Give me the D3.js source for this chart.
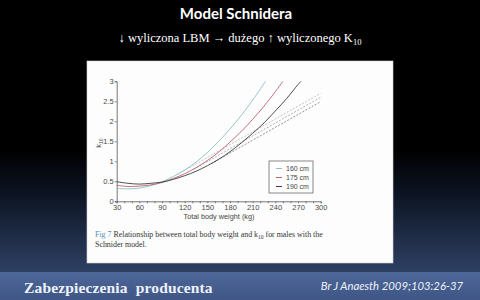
<!DOCTYPE html>
<html lang="pl">

<head>
    <meta charset="UTF-8">
    <title>Model Schnidera</title>
    <script src="https://cdn.jsdelivr.net/npm/d3@7"></script>
    <style>
        html, body { margin: 0; padding: 0; background: #000; }
        svg { display: block; }
    </style>
</head>

<body>
    <div id="container"></div>
    <script>
        // k10, males, Schnider model
        const weights160 = [30, 45, 60, 75, 90, 105, 120, 135, 150, 165, 180, 195, 210, 227];
        const k10_160 = [0.32, 0.31, 0.33, 0.39, 0.49, 0.62, 0.78, 0.98, 1.22, 1.50, 1.81, 2.15, 2.53, 3.0];

        const weights175 = [30, 45, 60, 75, 90, 105, 120, 135, 150, 165, 180, 195, 210, 225, 240, 250];
        const k10_175 = [0.40, 0.37, 0.38, 0.41, 0.47, 0.57, 0.69, 0.84, 1.02, 1.23, 1.48, 1.75, 2.05, 2.38, 2.74, 3.0];

        const weights190 = [30, 45, 60, 75, 90, 105, 120, 135, 150, 165, 180, 195, 210, 225, 240, 255, 270, 274];
        const k10_190 = [0.49, 0.45, 0.43, 0.45, 0.48, 0.55, 0.64, 0.75, 0.89, 1.05, 1.24, 1.46, 1.70, 1.96, 2.26, 2.57, 2.92, 3.0];

        // dotted straight lines (one per height)
        const dashWeights160 = [110, 300];
        const dashK10_160 = [0.67, 2.70];
        const dashWeights175 = [132, 300];
        const dashK10_175 = [0.80, 2.60];
        const dashWeights190 = [155, 300];
        const dashK10_190 = [0.94, 2.49];

        const heights = ["160 cm", "175 cm", "190 cm"];
        const xTicks = [30, 60, 90, 120, 150, 180, 210, 240, 270, 300];
        const yTicks = [0, 0.5, 1, 1.5, 2, 2.5, 3];

        const W = 480, H = 300;
        const colors = ["#8cc0c2", "#b8646f", "#3a3a3a"];
        const dashColors = ["#c4c4c4", "#b0b0b0", "#969696"];

        const svg = d3.create("svg")
            .attr("width", W)
            .attr("height", H)
            .attr("viewBox", `0 0 ${W} ${H}`);

        // slide background
        const defs = svg.append("defs");
        const bg = defs.append("linearGradient").attr("id", "bg")
            .attr("x1", 0).attr("y1", 0).attr("x2", 0).attr("y2", 1);
        bg.append("stop").attr("offset", "0").attr("stop-color", "#000");
        bg.append("stop").attr("offset", "0.55").attr("stop-color", "#000");
        bg.append("stop").attr("offset", "0.7").attr("stop-color", "#0b1220");
        bg.append("stop").attr("offset", "1").attr("stop-color", "#2e4063");

        const band = defs.append("linearGradient").attr("id", "band")
            .attr("x1", 0).attr("y1", 0).attr("x2", 0).attr("y2", 1);
        band.append("stop").attr("offset", "0").attr("stop-color", "#4d6798");
        band.append("stop").attr("offset", "1").attr("stop-color", "#3f5686");

        svg.append("rect").attr("width", W).attr("height", 272).attr("fill", "url(#bg)");
        svg.append("rect").attr("y", 272).attr("width", W).attr("height", 28).attr("fill", "url(#band)");

        // title + subtitle
        svg.append("text")
            .attr("x", 236).attr("y", 19)
            .attr("text-anchor", "middle")
            .attr("fill", "#fff")
            .style("font", "700 15px Lato, 'Open Sans', sans-serif")
            .text("Model Schnidera");

        const sub = svg.append("text")
            .attr("x", 240).attr("y", 42)
            .attr("text-anchor", "middle")
            .attr("fill", "#fff")
            .style("font", "12.5px 'Liberation Serif', serif");
        sub.append("tspan").text("↓ wyliczona LBM → dużego ↑ wyliczonego K");
        sub.append("tspan").attr("dy", 3).style("font-size", "8.5px").text("10");

        // figure panel
        svg.append("rect")
            .attr("x", 87).attr("y", 61).attr("width", 306).attr("height", 202)
            .attr("fill", "#fdfdfd").attr("stroke", "#d8d8d8").attr("stroke-width", 0.6);

        const x = d3.scaleLinear().domain([30, 300]).range([116.7, 320.7]);
        const y = d3.scaleLinear().domain([0, 3]).range([201.3, 81.3]);

        const chart = svg.append("g")
            .style("font", "7.5px 'Liberation Sans', Arial, sans-serif")
            .attr("fill", "#444");

        const xAxis = chart.append("g")
            .attr("transform", `translate(0,${y(0)})`)
            .call(d3.axisBottom(x).tickValues(d3.range(30, 301, 10)).tickSize(2).tickPadding(1)
                .tickFormat(d => xTicks.includes(d) ? d : ""));
        const yAxis = chart.append("g")
            .attr("transform", `translate(${x(30)},0)`)
            .call(d3.axisLeft(y).tickValues(yTicks).tickSize(2).tickFormat(d3.format("")));

        [xAxis, yAxis].forEach(a => {
            a.select(".domain").attr("stroke", "#555").attr("stroke-width", 0.8);
            a.selectAll(".tick line").attr("stroke", "#555").attr("stroke-width", 0.7);
            a.selectAll("text").attr("fill", "#4a4a4a").style("font-size", "7.5px")
                .style("font-family", "'Liberation Sans', Arial, sans-serif");
        });
        yAxis.selectAll("text").attr("x", -3);

        chart.append("text")
            .attr("x", 219).attr("y", 219)
            .attr("text-anchor", "middle")
            .attr("fill", "#444")
            .style("font-size", "7.3px")
            .text("Total body weight (kg)");

        const yLab = chart.append("text")
            .attr("transform", `translate(101,143) rotate(-90)`)
            .attr("text-anchor", "middle")
            .attr("fill", "#444");
        yLab.append("tspan").text("k");
        yLab.append("tspan").attr("dy", 2).style("font-size", "5px").text("10");

        const line = d3.line()
            .x(d => x(d[0]))
            .y(d => y(d[1]))
            .curve(d3.curveCatmullRom.alpha(.5));

        const dashSeries = [
            d3.zip(dashWeights160, dashK10_160),
            d3.zip(dashWeights175, dashK10_175),
            d3.zip(dashWeights190, dashK10_190)
        ];
        dashSeries.forEach((s, i) => {
            chart.append("path")
                .attr("d", line(s))
                .attr("fill", "none")
                .attr("stroke", dashColors[i])
                .attr("stroke-width", 1)
                .attr("stroke-dasharray", "2,1.5");
        });

        const series = [
            d3.zip(weights160, k10_160),
            d3.zip(weights175, k10_175),
            d3.zip(weights190, k10_190)
        ];
        series.forEach((s, i) => {
            chart.append("path")
                .attr("d", line(s))
                .attr("fill", "none")
                .attr("stroke", colors[i])
                .attr("stroke-width", 0.9);
        });

        // legend
        const lg = chart.append("g").attr("transform", "translate(269,161)");
        lg.append("rect").attr("width", 44).attr("height", 32)
            .attr("fill", "#fff").attr("stroke", "#555").attr("stroke-width", 0.7);
        heights.forEach((h, i) => {
            const yy = 7.5 + i * 9;
            lg.append("line").attr("x1", 7).attr("x2", 13).attr("y1", yy).attr("y2", yy)
                .attr("stroke", colors[i]).attr("stroke-width", 1);
            lg.append("text").attr("x", 17).attr("y", yy + 2.5).attr("fill", "#444")
                .style("font-size", "7px").text(h);
        });

        // caption
        const cap = svg.append("text")
            .attr("x", 95).attr("y", 237)
            .attr("fill", "#333")
            .style("font", "7.9px 'Liberation Serif', serif");
        cap.append("tspan").attr("fill", "#5b8fc0").text("Fig 7 ");
        cap.append("tspan").text("Relationship between total body weight and k");
        cap.append("tspan").attr("dy", 1.5).style("font-size", "5.5px").text("10");
        cap.append("tspan").attr("dy", -1.5).text(" for males with the");
        svg.append("text")
            .attr("x", 95).attr("y", 247)
            .attr("fill", "#333")
            .style("font", "7.9px 'Liberation Serif', serif")
            .text("Schnider model.");

        // footer
        svg.append("text")
            .attr("x", 24).attr("y", 293)
            .attr("fill", "#eef2fa")
            .style("font", "700 15.5px 'Liberation Serif', serif")
            .style("white-space", "pre")
            .style("letter-spacing", "0.15px")
            .text("Zabezpieczenia  producenta");

        svg.append("text")
            .attr("x", 463).attr("y", 290)
            .attr("text-anchor", "end")
            .attr("fill", "#eef2fa")
            .style("font", "italic 11.3px Lato, sans-serif")
            .text("Br J Anaesth 2009;103:26-37");

        d3.select("#container").node().append(svg.node());
    </script>
</body>

</html>
